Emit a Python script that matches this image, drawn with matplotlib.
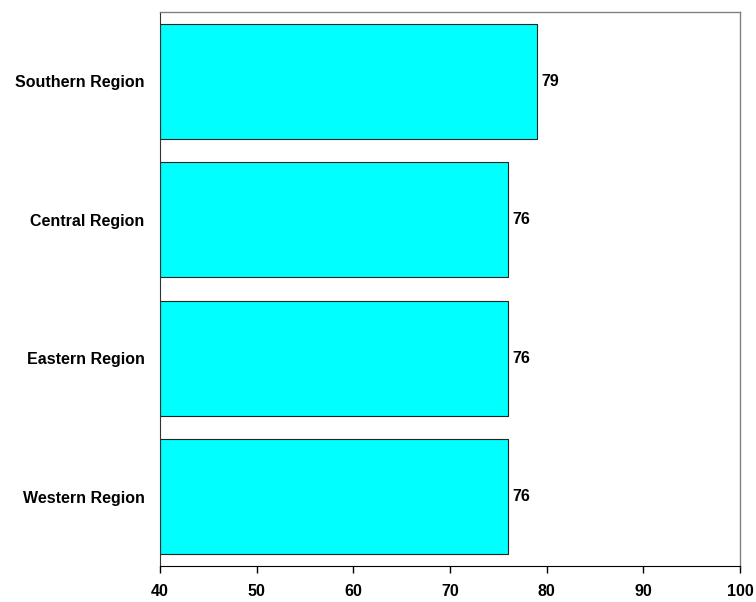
import matplotlib.pyplot as plt

plt.rcParams['font.family'] = ['Liberation Sans', 'DejaVu Sans']

regions = ['Western Region', 'Eastern Region', 'Central Region', 'Southern Region']
scores = [76, 76, 76, 79]
xticks = [40, 50, 60, 70, 80, 90, 100]

fig = plt.figure(figsize=(7.56, 6.02), dpi=100)
ax = fig.add_axes([160 / 756, 36 / 602, 580 / 756, 554 / 602])

bars = ax.barh(range(len(regions)), [s - 40 for s in scores], left=40, height=0.83,
               color='#00FFFF', edgecolor='#222222', linewidth=0.8)

for i, s in enumerate(scores):
    ax.text(s + 0.45, i, str(s), va='center', ha='left', fontsize=11.5, fontweight='bold')

ax.set_xlim(40, 100)
ax.set_ylim(-0.5, len(regions) - 0.5)
ax.set_xticks(xticks)
ax.set_xticklabels([str(t) for t in xticks], fontsize=11.5, fontweight='bold')
ax.set_yticks(range(len(regions)))
ax.set_yticklabels(regions, fontsize=11.5, fontweight='bold')
ax.tick_params(axis='y', length=0, pad=11)
ax.tick_params(axis='x', length=5, width=1, direction='out', pad=8)

for side in ['top', 'right']:
    ax.spines[side].set_color('#808080')
    ax.spines[side].set_linewidth(1)
ax.spines['bottom'].set_color('black')
ax.spines['left'].set_color('#333333')

plt.savefig('out.png', dpi=100)
